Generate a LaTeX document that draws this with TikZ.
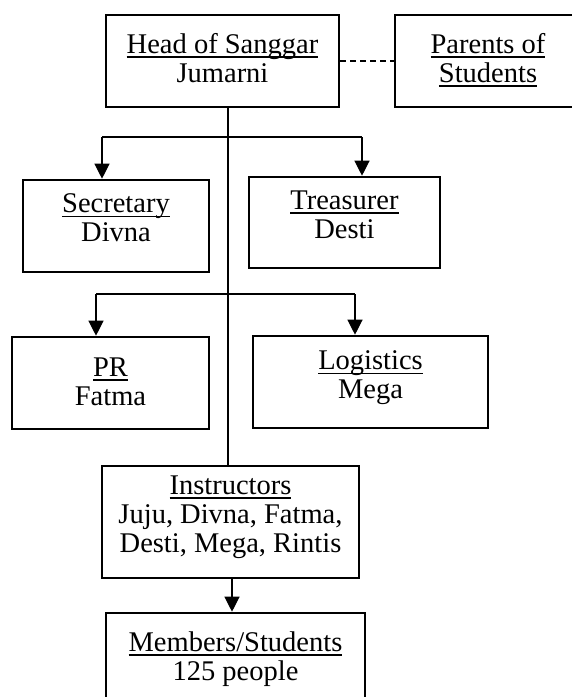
\documentclass[tikz,border=0pt]{standalone}
\usepackage{fontspec}
\setmainfont{Liberation Serif}
\usetikzlibrary{positioning, calc, arrows.meta}

\newcommand{\ulbox}[1]{\setbox0\hbox{#1}\rlap{\rule[-4.5pt]{\wd0}{1.6pt}}\box0}

\begin{document}
\begin{tikzpicture}[
    x=1pt, y=-1pt,
    block/.style={rectangle, draw, line width=2.6pt, inner sep=0pt, align=center, font=\fontsize{28.5}{29}\selectfont},
    line/.style={draw, line width=1.2pt, -{Triangle[length=15pt,width=15pt]}},
    link/.style={draw, line width=1.2pt}
]
\useasboundingbox (0,0) rectangle (572,697);

% Nodes
\node [block, minimum width=233pt, minimum height=92pt, text depth=6.5pt] (head) at (222.5,61) {\ulbox{Head of Sanggar}\\Jumarni};
\node [block, minimum width=186pt, minimum height=92pt, text depth=6.5pt] (parents) at (488,61) {\ulbox{Parents of}\\\ulbox{Students}};
\node [block, minimum width=186pt, minimum height=92pt, text depth=16.5pt] (secretary) at (116,226) {\ulbox{Secretary}\\Divna};
\node [block, minimum width=191pt, minimum height=91pt, text depth=15.5pt] (treasurer) at (344.5,222.5) {\ulbox{Treasurer}\\Desti};
\node [block, minimum width=197pt, minimum height=92pt, text depth=2.5pt] (pr) at (110.5,383) {\ulbox{PR}\\Fatma};
\node [block, minimum width=235pt, minimum height=92pt, text depth=14.5pt] (logistics) at (370.5,382) {\ulbox{Logistics}\\Mega};
\node [block, minimum width=257pt, minimum height=112pt, text depth=15.5pt] (instructors) at (230.5,522) {\ulbox{Instructors}\\Juju, Divna, Fatma,\\Desti, Mega, Rintis};
\node [block, minimum width=259pt, minimum height=90pt, text depth=4.5pt] (members) at (235.5,658) {\ulbox{Members/Students}\\125 people};

% Branch points
\coordinate (spine) at (228,0);
\coordinate (topl) at (102,137);
\coordinate (topr) at (362,137);
\coordinate (midl) at (96,294);
\coordinate (midr) at (355,294);

% Lines
\path [link] (head.south -| spine) -- (instructors.north -| spine);
\path [link, dash pattern=on 6pt off 4pt] (head.east) -- (parents.west);
\path [link] (topl) -- (topr);
\path [line] (topl) -- (topl |- secretary.north);
\path [line] (topr) -- (topr |- treasurer.north);
\path [link] (midl) -- (midr);
\path [line] (midl) -- (midl |- pr.north);
\path [line] (midr) -- (midr |- logistics.north);
\path [line] (instructors.south -| 232,0) -- (members.north -| 232,0);

\end{tikzpicture}
\end{document}
